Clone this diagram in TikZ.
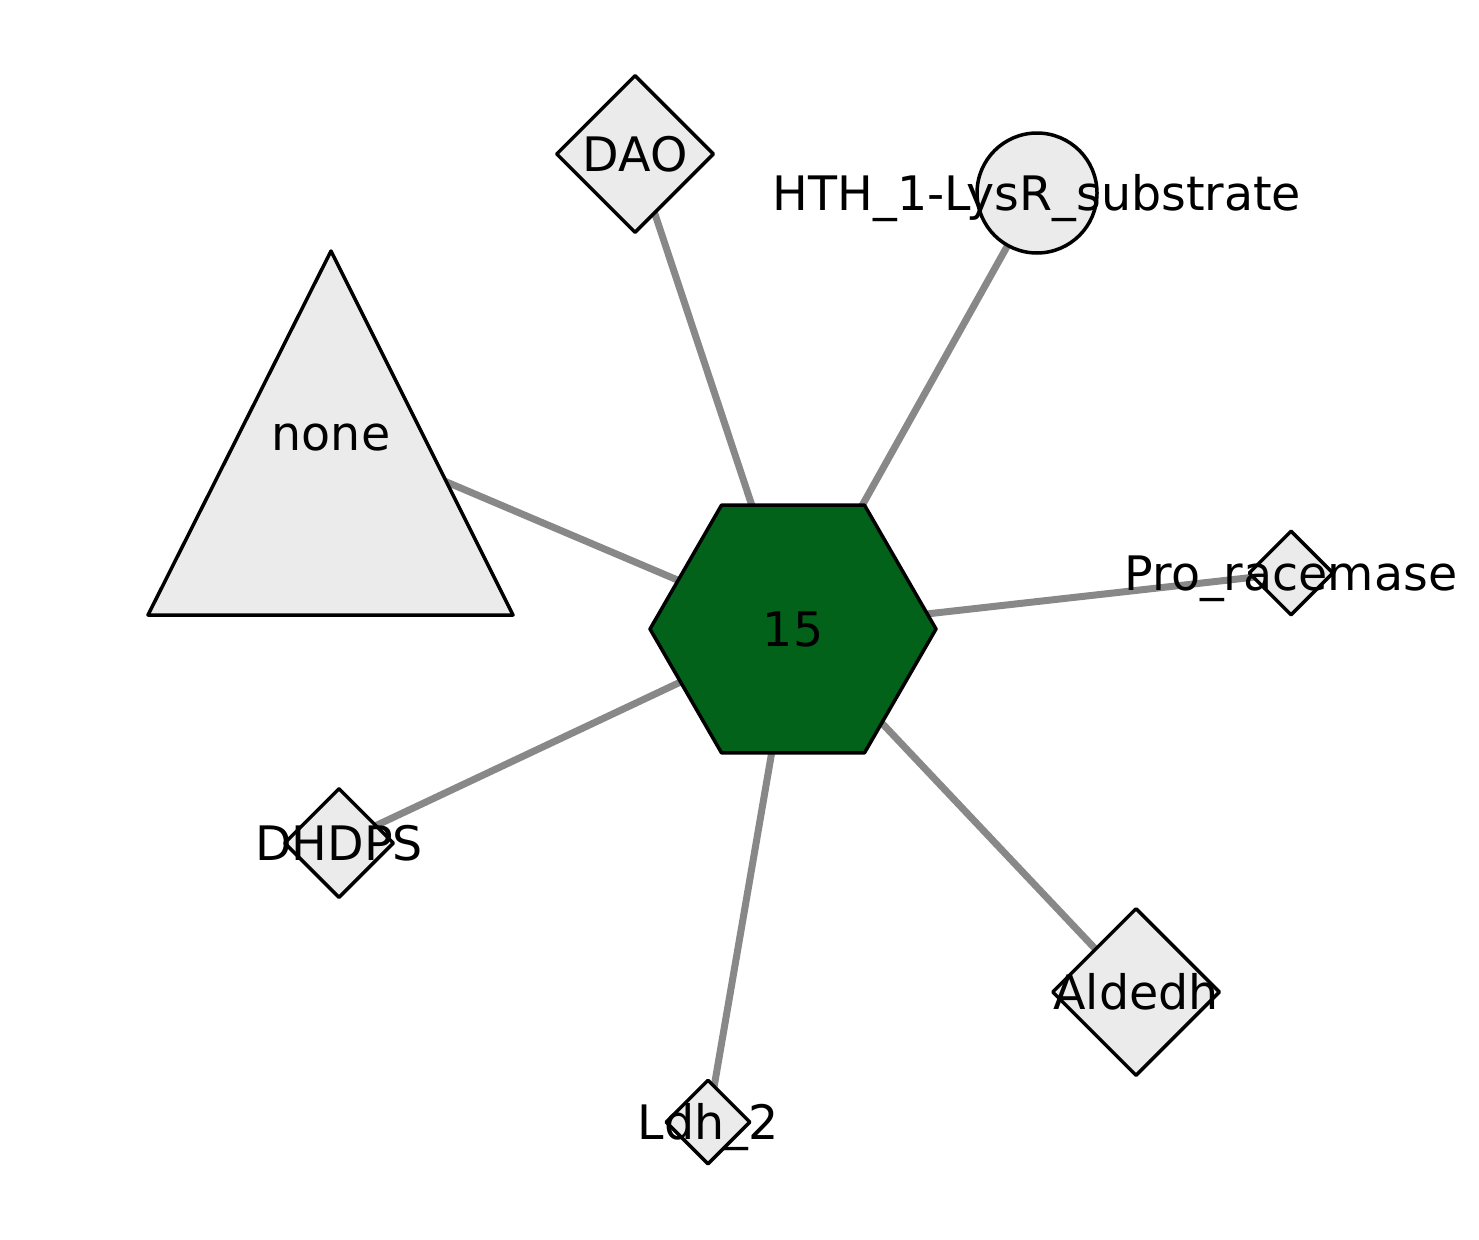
\documentclass[tikz,border=0pt]{standalone}
\usepackage{fontspec}
\setmainfont{DejaVu Sans}
\usetikzlibrary{shapes.geometric,backgrounds}
\definecolor{nodegray}{HTML}{EBEBEB}
\definecolor{hexgreen}{HTML}{03621A}
\definecolor{edgegray}{HTML}{888888}
\tikzset{
  shapebox/.style={draw=black, line width=3.5pt, fill=nodegray, inner sep=0pt, line join=round},
  diamondbox/.style={shapebox, diamond, minimum width=#1, minimum height=#1},
  labeltext/.style={inner sep=0pt, text height=34pt, text depth=0pt, font=\fontsize{47.5}{57}\selectfont},
  edgeline/.style={draw=edgegray, line width=7pt}
}

\begin{document}
\begin{tikzpicture}[x=1pt,y=-1pt]
  \useasboundingbox (0,0) rectangle (1479,1239);
  % centre node
  \node[shapebox, fill=hexgreen, regular polygon, regular polygon sides=6,
        minimum size=286] (hex) at (793,629) {};
  % domain nodes
  \foreach \name/\x/\y/\size in {dao/635/154/158, prorac/1291/573/85,
      dhdps/339/843/110, ldh/708/1122/85, aldedh/1136/992/168} {
    \node[diamondbox=\size] (\name) at (\x,\y) {};
  }
  \node[shapebox, circle, minimum size=120] (hth) at (1037,193) {};
  \coordinate (none) at (331,433);
  \draw[shapebox] (331,251) -- (513,615) -- (148,615) -- cycle;
  % edges behind
  \begin{scope}[on background layer]
    \foreach \name in {dao, hth, none, prorac, dhdps, ldh, aldedh} {
      \draw[edgeline] (hex.center) -- (\name.center);
    }
  \end{scope}
  % labels on top
  \foreach \name/\txt in {hex/15, dao/DAO, hth/HTH\_1-LysR\_substrate, none/none,
      prorac/Pro\_racemase, dhdps/DHDPS, ldh/Ldh\_2, aldedh/Aldedh} {
    \node[labeltext] (\name-label) at (\name) {\txt};
  }
\end{tikzpicture}
\end{document}
